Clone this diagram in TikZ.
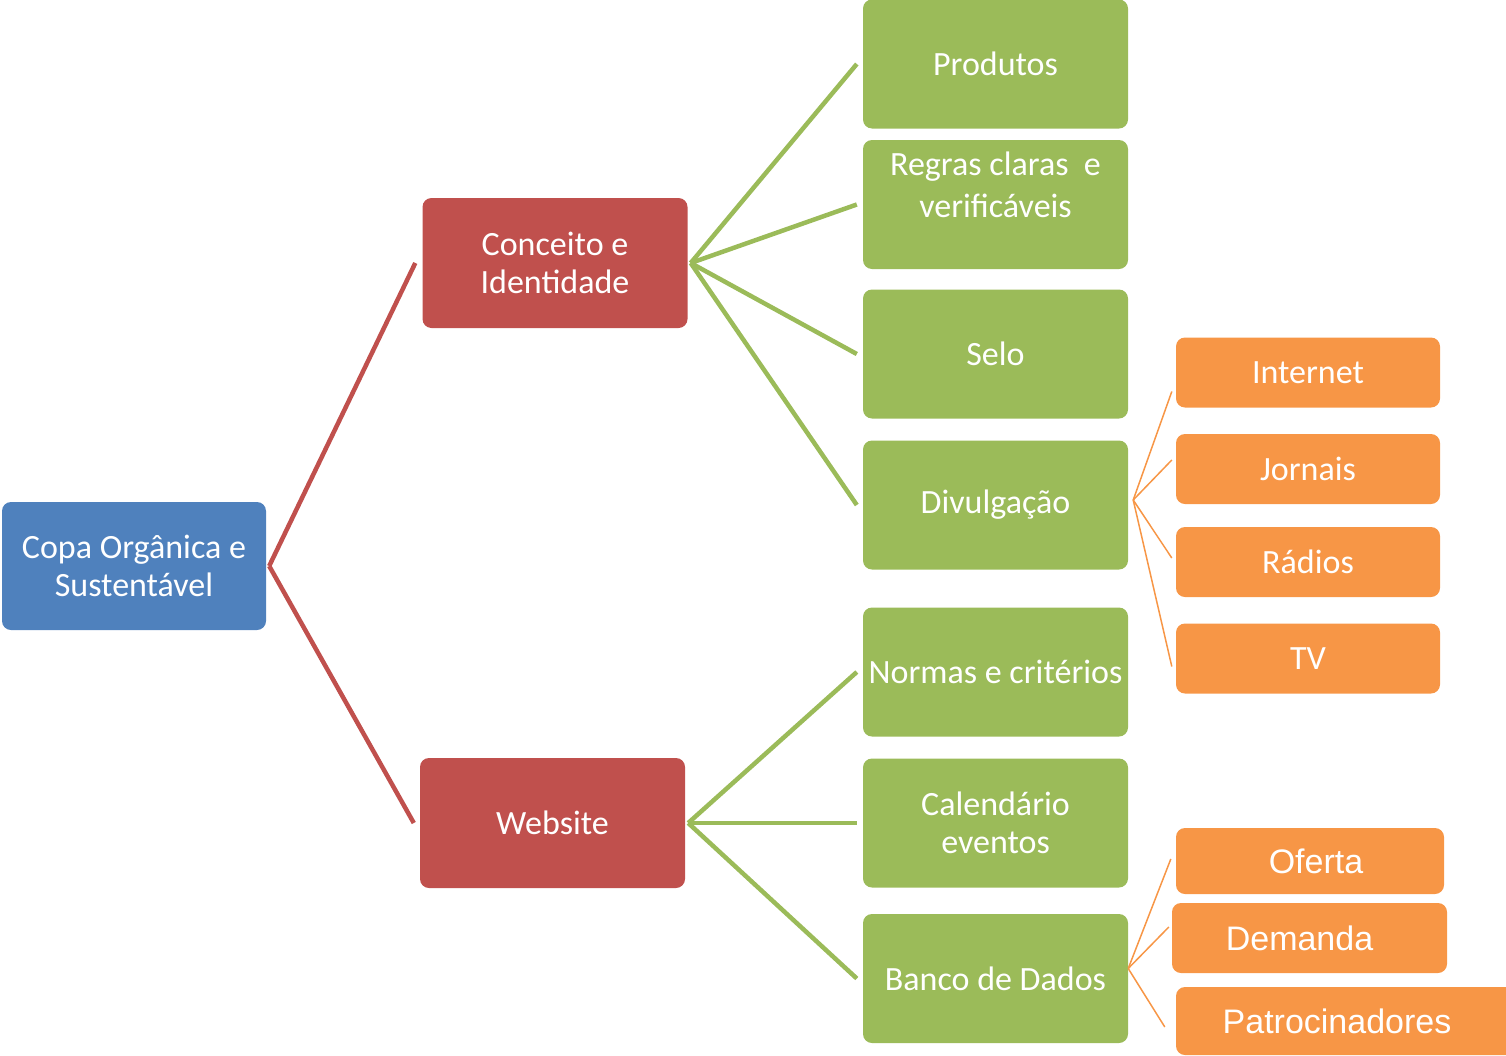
\documentclass[tikz,border=0pt]{standalone}
\usepackage{fontspec}
\setmainfont{Carlito}
\newfontfamily\arialf{Liberation Sans}
\definecolor{cblue}{HTML}{4F81BD}
\definecolor{cred}{HTML}{C0504D}
\definecolor{cgreen}{HTML}{9BBB59}
\definecolor{corange}{HTML}{F79646}
\begin{document}
\begin{tikzpicture}[x=1pt,y=-1pt,
  box/.style={rectangle, rounded corners=9pt, draw=none, text=white, align=center, inner sep=0pt, font=\fontsize{34}{38}\selectfont},
  bluebox/.style={box, fill=cblue, minimum width=264pt, minimum height=128pt},
  redbox/.style={box, fill=cred, minimum width=265pt, minimum height=130pt},
  greenbox/.style={box, fill=cgreen, minimum width=265pt, minimum height=129pt},
  orangebox/.style={box, fill=corange, minimum width=264pt, minimum height=70pt},
  arialbox/.style={box, fill=corange, font=\arialf\fontsize{34}{38}\selectfont},
  boxtext/.style={text=white, align=center, inner sep=0pt, font=\fontsize{34}{42}\selectfont},
  redline/.style={draw=cred, line width=4.5pt},
  greenline/.style={draw=cgreen, line width=4.5pt},
  orangeline/.style={draw=corange, line width=1.5pt}
]
\useasboundingbox (0,0) rectangle (1506,1055);

% root
\node[bluebox] (copa) at (134,566) {Copa Orgânica e\\Sustentável};

% level 1
\node[redbox] (conceito) at (555,263) {Conceito e\\Identidade};
\node[redbox] (website) at (552.5,823) {Website};

% level 2
\node[greenbox] (produtos) at (995.5,64) {Produtos};
\node[greenbox] (regras) at (995.5,204.5) {};
\node[boxtext] (regrastext) at (995.5,185) {Regras claras\ \ e\\verificáveis};
\node[greenbox] (selo) at (995.5,354) {Selo};
\node[greenbox] (divulgacao) at (995.5,505) {Divulgação};
\node[greenbox] (normas) at (995.5,672) {Normas e critérios};
\node[greenbox] (calendario) at (995.5,823) {Calendário\\eventos};
\node[greenbox] (banco) at (995.5,978.5) {Banco de Dados};

% level 3
\node[orangebox] (internet) at (1308,372.5) {Internet};
\node[orangebox] (jornais) at (1308,469) {Jornais};
\node[orangebox] (radios) at (1308,562) {Rádios};
\node[orangebox] (tv) at (1308,658.5) {TV};

\node[arialbox, minimum width=268pt, minimum height=66pt] (oferta) at (1310,861) {\kern12pt Oferta};
\node[arialbox, minimum width=275pt, minimum height=70pt] (demanda) at (1309.5,938) {Demanda\kern20pt};
\node[arialbox, minimum width=344pt, minimum height=68pt] (patro) at (1348,1021) {Patrocinadores\kern22pt};

% connectors
\draw[redline] ([xshift=3pt]copa.east) -- ([xshift=-7pt]conceito.west);
\draw[redline] ([xshift=3pt]copa.east) -- ([xshift=-6pt]website.west);

\draw[greenline] ([xshift=3pt]conceito.east) -- ([xshift=-6pt]produtos.west);
\draw[greenline] ([xshift=3pt]conceito.east) -- ([xshift=-6pt]regras.west);
\draw[greenline] ([xshift=3pt]conceito.east) -- ([xshift=-6pt]selo.west);
\draw[greenline] ([xshift=3pt]conceito.east) -- ([xshift=-6pt]divulgacao.west);

\draw[greenline] ([xshift=3pt]website.east) -- ([xshift=-6pt]normas.west);
\draw[greenline] ([xshift=3pt]website.east) -- ([xshift=-6pt]calendario.west);
\draw[greenline] ([xshift=3pt]website.east) -- ([xshift=-6pt]banco.west);

\draw[orangeline] ([shift={(5,-5)}]divulgacao.east) -- ([shift={(-4,19)}]internet.west);
\draw[orangeline] ([shift={(5,-5)}]divulgacao.east) -- ([shift={(-4,-9)}]jornais.west);
\draw[orangeline] ([shift={(5,-5)}]divulgacao.east) -- ([shift={(-4,-4)}]radios.west);
\draw[orangeline] ([shift={(5,-5)}]divulgacao.east) -- ([shift={(-4,8)}]tv.west);

\draw[orangeline] ([shift={(0,-10)}]banco.east) -- ([shift={(-5,-2)}]oferta.west);
\draw[orangeline] ([shift={(0,-10)}]banco.east) -- ([shift={(-3,-11)}]demanda.west);
\draw[orangeline] ([shift={(0,-10)}]banco.east) -- ([shift={(-11,6)}]patro.west);
\end{tikzpicture}
\end{document}
